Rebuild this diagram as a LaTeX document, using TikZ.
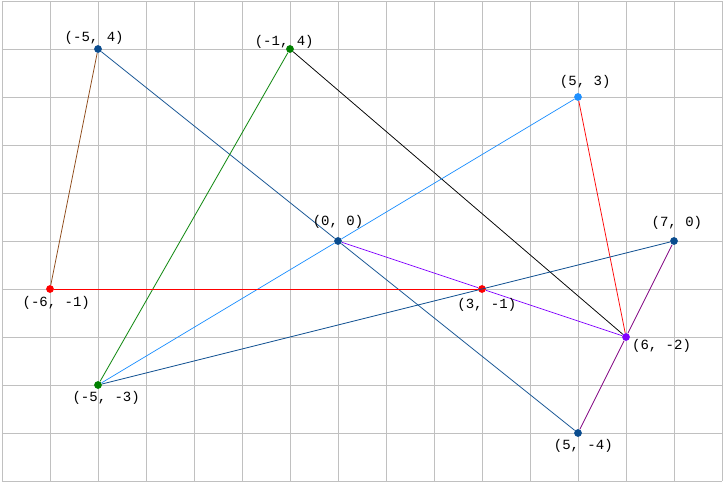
\documentclass[tikz,border=0pt]{standalone}
\usepackage{fontspec}
\setmonofont{Liberation Mono}
\usetikzlibrary{calc,positioning}
\definecolor{figNavy}{HTML}{0A4C8E}
\definecolor{figSky}{HTML}{1E90FF}
\definecolor{figBrown}{HTML}{8B4513}
\definecolor{figGreen}{HTML}{008000}
\definecolor{figViolet}{HTML}{8000FF}
\definecolor{figPurple}{HTML}{800080}
\definecolor{figRed}{HTML}{FF0000}
\definecolor{figGrid}{HTML}{C0C0C0}

\begin{document}
\begin{tikzpicture}[
  x=1cm, y=1cm,
  gridline/.style={draw=figGrid, line width=0.55pt},
  dot/.style={circle, inner sep=0pt, minimum size=4.6pt},
  edge/.style={line width=0.45pt},
  coord/.style={font=\ttfamily\fontsize{8.3}{10}\selectfont, inner sep=0pt, text=black}
]
\useasboundingbox (-7.0417,-5.0625) rectangle (8.0833,5.0208);

% Grid
\draw[gridline] (-7,-5) grid (8,5);

% Points
\node[dot, fill=figNavy]   (A) at (-5,4)  {};
\node[dot, fill=figGreen]  (B) at (-1,4)  {};
\node[dot, fill=figSky]    (C) at (5,3)   {};
\node[dot, fill=figNavy]   (O) at (0,0)   {};
\node[dot, fill=figNavy]   (D) at (7,0)   {};
\node[dot, fill=figRed]    (E) at (-6,-1) {};
\node[dot, fill=figRed]    (F) at (3,-1)  {};
\node[dot, fill=figViolet] (G) at (6,-2)  {};
\node[dot, fill=figGreen]  (H) at (-5,-3) {};
\node[dot, fill=figNavy]   (I) at (5,-4)  {};

% Edges
\draw[edge, figBrown]  (A) -- (E);
\draw[edge, figNavy]   (A) -- (O);
\draw[edge, figNavy]   (O) -- (I);
\draw[edge, figGreen]  (B) -- (H);
\draw[edge, black]     (B) -- (G);
\draw[edge, figSky]    (C) -- (O);
\draw[edge, figSky]    (O) -- (H);
\draw[edge, figRed]    (C) -- (G);
\draw[edge, figNavy]   (D) -- (H);
\draw[edge, figPurple] (D) -- (G);
\draw[edge, figPurple] (G) -- (I);
\draw[edge, figViolet] (O) -- (F);
\draw[edge, figViolet] (F) -- (G);
\draw[edge, figRed]    (E) -- (F);

% Labels
\node[coord] (lA) at (-5.08,4.23)  {(-5, 4)};
\node[coord] (lB) at (-1.12,4.15)  {(-1, 4)};
\node[coord] (lC) at (5.15,3.31)   {(5, 3)};
\node[coord] (lO) at (0,0.40)      {(0, 0)};
\node[coord] (lD) at (7.06,0.38)   {(7, 0)};
\node[coord] (lE) at (-5.87,-1.29) {(-6, -1)};
\node[coord] (lF) at (3.10,-1.33)  {(3, -1)};
\node[coord] (lG) at (6.74,-2.19)  {(6, -2)};
\node[coord] (lH) at (-4.83,-3.27) {(-5, -3)};
\node[coord] (lI) at (5.11,-4.27)  {(5, -4)};

\end{tikzpicture}
\end{document}
